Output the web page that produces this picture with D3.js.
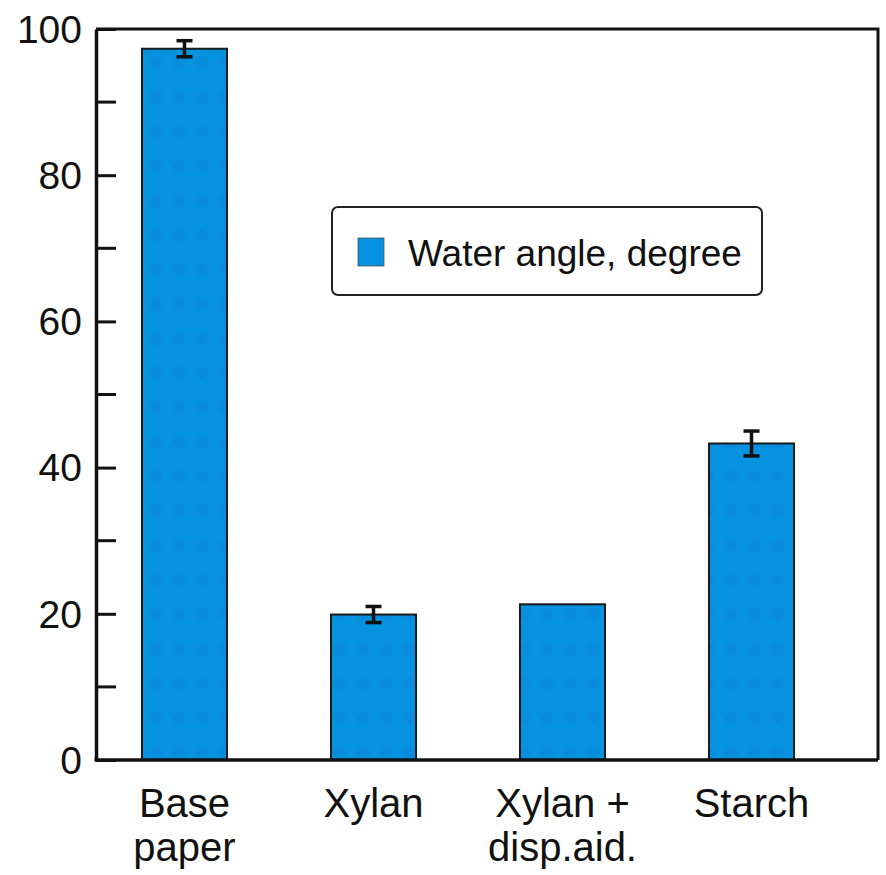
<!DOCTYPE html>
<html>
<head>
<meta charset="utf-8">
<script src="https://cdn.jsdelivr.net/npm/d3@7"></script>
<style>
  body { margin: 0; background: #fff; }
  svg text { font-family: "Liberation Sans", Arial, sans-serif; fill: #111; }
</style>
</head>
<body>
<div id="chart"></div>
<script>
// data
const categories = [["Base", "paper"], ["Xylan"], ["Xylan +", "disp.aid."], ["Starch"]];
const values = [97.3, 19.9, 21.3, 43.3];
const errors = [1.1, 1.1, 0, 1.7];
const yTicks = [0, 20, 40, 60, 80, 100];
const yMinorTicks = [10, 30, 50, 70, 90];
const seriesName = "Water angle, degree";

const width = 886;
const height = 875;
const margin = { top: 29, right: 8, bottom: 115, left: 96 };

const svg = d3.select("#chart")
  .append("svg")
    .attr("width", width)
    .attr("height", height);

// dotted texture inside the bars
const pattern = svg.append("defs").append("pattern")
  .attr("id", "dots")
  .attr("patternUnits", "userSpaceOnUse")
  .attr("width", 23)
  .attr("height", 34.5)
  .attr("x", 6.5)
  .attr("y", 11);
pattern.append("rect").attr("width", 23).attr("height", 34.5).attr("fill", "#0592df");
pattern.append("circle").attr("cx", 11.5).attr("cy", 17).attr("r", 6.5).attr("fill", "#0b88d8").attr("opacity", 0.6);

const x = d3.scaleBand()
  .domain(d3.range(categories.length))
  .range([90, 846])
  .paddingInner(0.55)
  .paddingOuter(0.275);

const y = d3.scaleLinear()
  .domain([0, 100])
  .range([height - margin.bottom, margin.top]);

const plotRight = width - margin.right;

// frame (top + right)
svg.append("path")
  .attr("d", `M${margin.left},${y(100)}H${plotRight}V${y(0)}`)
  .attr("fill", "none")
  .attr("stroke", "#111")
  .attr("stroke-width", 3);

// bars
svg.selectAll("rect.bar")
  .data(values)
  .join("rect")
    .attr("class", "bar")
    .attr("x", (d, i) => x(i))
    .attr("y", d => y(d))
    .attr("width", x.bandwidth())
    .attr("height", d => y(0) - y(d))
    .attr("fill", "url(#dots)")
    .attr("stroke", "#1a1a1a")
    .attr("stroke-width", 2);

// error bars
const eb = svg.selectAll("g.err")
  .data(values.map((v, i) => ({ v, e: errors[i], i })).filter(d => d.e > 0))
  .join("g")
    .attr("class", "err")
    .attr("stroke", "#111")
    .attr("stroke-width", 3.5);
eb.append("line")
  .attr("x1", d => x(d.i) + x.bandwidth() / 2)
  .attr("x2", d => x(d.i) + x.bandwidth() / 2)
  .attr("y1", d => y(d.v - d.e))
  .attr("y2", d => y(d.v + d.e));
eb.append("line")
  .attr("x1", d => x(d.i) + x.bandwidth() / 2 - 8)
  .attr("x2", d => x(d.i) + x.bandwidth() / 2 + 8)
  .attr("y1", d => y(d.v + d.e))
  .attr("y2", d => y(d.v + d.e));
eb.append("line")
  .attr("x1", d => x(d.i) + x.bandwidth() / 2 - 8)
  .attr("x2", d => x(d.i) + x.bandwidth() / 2 + 8)
  .attr("y1", d => y(d.v - d.e))
  .attr("y2", d => y(d.v - d.e));

// y axis with inward ticks
const yAxis = svg.append("g")
  .attr("transform", `translate(${margin.left},0)`)
  .call(d3.axisLeft(y).tickValues(yTicks).tickSize(-20).tickPadding(14).tickSizeOuter(0));
yAxis.select(".domain").attr("stroke", "#111").attr("stroke-width", 3.5);
yAxis.selectAll(".tick line").attr("stroke", "#111").attr("stroke-width", 3);
yAxis.selectAll(".tick text").attr("font-size", 39).attr("fill", "#111").attr("dy", "0.34em");
yAxis.selectAll(".minor")
  .data(yMinorTicks)
  .join("line")
    .attr("class", "minor")
    .attr("x1", 0).attr("x2", 20)
    .attr("y1", d => y(d)).attr("y2", d => y(d))
    .attr("stroke", "#111").attr("stroke-width", 3);

// x axis baseline
svg.append("line")
  .attr("x1", margin.left - 1.5).attr("x2", plotRight)
  .attr("y1", y(0)).attr("y2", y(0))
  .attr("stroke", "#111").attr("stroke-width", 3.5);

// category labels
const labels = svg.selectAll("text.cat")
  .data(categories)
  .join("text")
    .attr("class", "cat")
    .attr("text-anchor", "middle")
    .attr("font-size", 40)
    .attr("x", (d, i) => x(i) + x.bandwidth() / 2)
    .attr("y", 817);
labels.selectAll("tspan")
  .data(d => d)
  .join("tspan")
    .attr("x", function () { return this.parentNode.getAttribute("x"); })
    .attr("dy", (d, j) => j === 0 ? 0 : 44)
    .text(d => d);

// legend
const legend = svg.append("g").attr("transform", "translate(332,207)");
legend.append("rect")
  .attr("width", 430).attr("height", 88)
  .attr("rx", 6)
  .attr("fill", "#fff")
  .attr("stroke", "#222")
  .attr("stroke-width", 2);
legend.append("rect")
  .attr("x", 26).attr("y", 31)
  .attr("width", 26).attr("height", 28)
  .attr("fill", "#0592df")
  .attr("stroke", "#555")
  .attr("stroke-width", 0.8);
legend.append("text")
  .attr("x", 76).attr("y", 59)
  .attr("font-size", 37)
  .text(seriesName);
</script>
</body>
</html>
